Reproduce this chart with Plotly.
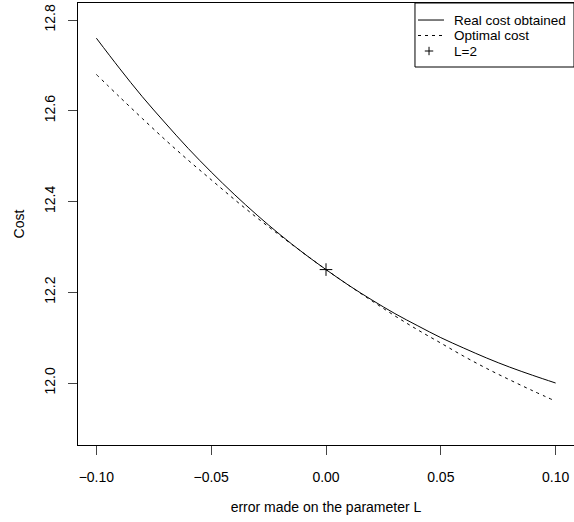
import plotly.graph_objects as go

# error made on the parameter L
err = [-0.10, -0.09, -0.08, -0.07, -0.06, -0.05, -0.04, -0.03, -0.02, -0.01, 0.00,
       0.01, 0.02, 0.03, 0.04, 0.05, 0.06, 0.07, 0.08, 0.09, 0.10]
real_cost = [12.760, 12.694, 12.631, 12.573, 12.517, 12.465, 12.416, 12.370, 12.327, 12.287, 12.250,
             12.215, 12.183, 12.153, 12.126, 12.100, 12.077, 12.055, 12.035, 12.017, 12.000]
optimal_cost = [12.680, 12.631, 12.583, 12.536, 12.491, 12.448, 12.405, 12.364, 12.325, 12.287, 12.250,
                12.215, 12.181, 12.148, 12.117, 12.088, 12.059, 12.032, 12.007, 11.983, 11.960]
point_x = [0.0]
point_y = [12.25]

x_ticks = [-0.10, -0.05, 0.00, 0.05, 0.10]
x_ticklabels = ["\u22120.10", "\u22120.05", "0.00", "0.05", "0.10"]
y_ticks = [12.0, 12.2, 12.4, 12.6, 12.8]
y_ticklabels = ["12.0", "12.2", "12.4", "12.6", "12.8"]
legend_labels = ["Real cost obtained", "Optimal cost", "L=2"]

FONT = "Liberation Sans, Arial, sans-serif"
FS = 14
LEG_FS = 13.5
DASH = "3px,4px"

fig = go.Figure()
fig.add_trace(go.Scatter(x=err, y=real_cost, mode="lines", name=legend_labels[0],
                         line=dict(color="black", width=1, shape="spline")))
fig.add_trace(go.Scatter(x=err, y=optimal_cost, mode="lines", name=legend_labels[1],
                         line=dict(color="black", width=1, dash=DASH, shape="spline")))
fig.add_trace(go.Scatter(x=point_x, y=point_y, mode="markers", name=legend_labels[2],
                         marker=dict(symbol="cross-thin-open", size=9, color="black",
                                     line=dict(color="black", width=1))))

axis_common = dict(showline=True, linecolor="black", linewidth=1, mirror=True,
                   ticks="outside", ticklen=9, tickwidth=1, tickcolor="#444444",
                   showgrid=False, zeroline=False, automargin=False,
                   tickfont=dict(family=FONT, size=FS, color="black"))

# ---- manual R-style legend (paper coordinates of the plot area) ----
box = dict(x0=0.6794, x1=1.0, y0=0.8552, y1=1.0)
row_y = [0.9615, 0.9265, 0.8914]
sym_x0, sym_x1, sym_xc, text_x = 0.6855, 0.7379, 0.7077, 0.7560
shapes = [
    dict(type="rect", xref="paper", yref="paper", **box,
         line=dict(color="black", width=1), fillcolor="white", layer="above"),
    dict(type="line", xref="paper", yref="paper", x0=sym_x0, x1=sym_x1, y0=row_y[0], y1=row_y[0],
         line=dict(color="black", width=1), layer="above"),
    dict(type="line", xref="paper", yref="paper", x0=sym_x0, x1=sym_x1, y0=row_y[1], y1=row_y[1],
         line=dict(color="black", width=1, dash=DASH), layer="above"),
    dict(type="line", xref="paper", yref="paper", x0=sym_xc - 0.0085, x1=sym_xc + 0.0085,
         y0=row_y[2], y1=row_y[2], line=dict(color="black", width=1), layer="above"),
    dict(type="line", xref="paper", yref="paper", x0=sym_xc, x1=sym_xc,
         y0=row_y[2] - 0.0095, y1=row_y[2] + 0.0095, line=dict(color="black", width=1), layer="above"),
]
annotations = [
    dict(xref="paper", yref="paper", x=text_x, y=yy, text=lab, showarrow=False,
         xanchor="left", yanchor="middle", borderpad=0,
         font=dict(family=FONT, size=LEG_FS, color="black"))
    for lab, yy in zip(legend_labels, row_y)
]

fig.update_layout(
    width=574, height=522,
    margin=dict(l=78, r=0, t=3, b=77, autoexpand=False),
    paper_bgcolor="white", plot_bgcolor="white",
    font=dict(family=FONT, size=FS, color="black"),
    xaxis=dict(range=[-0.108, 0.108], tickvals=x_ticks, ticktext=x_ticklabels,
               ticklabelstandoff=10,
               title=dict(text="error made on the parameter L", standoff=18,
                          font=dict(family=FONT, size=FS)),
               **axis_common),
    yaxis=dict(range=[11.8634, 12.8375], tickvals=y_ticks, ticktext=y_ticklabels,
               tickangle=-90, ticklabelstandoff=7,
               title=dict(text="Cost", standoff=14, font=dict(family=FONT, size=FS)),
               **axis_common),
    showlegend=False,
    shapes=shapes,
    annotations=annotations,
)

fig.write_html("out.html", config={"displayModeBar": False},
               post_script="document.body.style.margin='0';document.body.style.overflow='hidden';")
